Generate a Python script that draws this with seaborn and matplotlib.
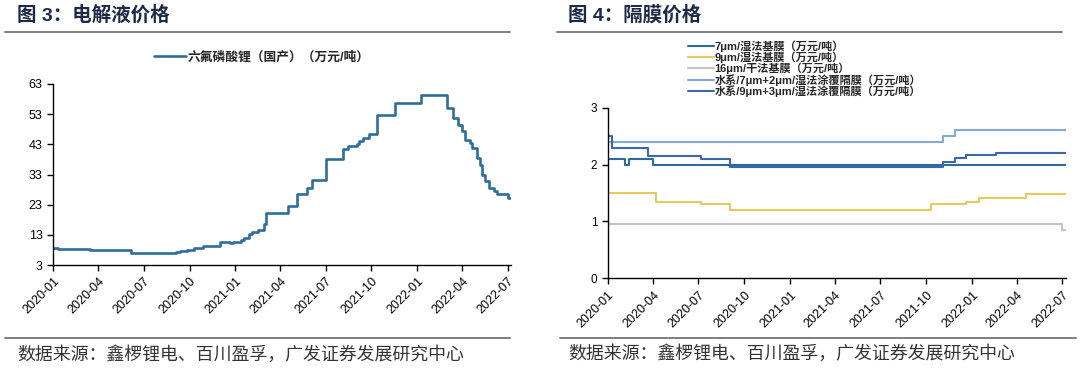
import pandas as pd
import matplotlib
matplotlib.use('Agg')
import matplotlib.pyplot as plt
import matplotlib.dates as mdates
from matplotlib.lines import Line2D
import seaborn as sns

sns.set_style('ticks')
plt.rcParams['font.family'] = ['Liberation Sans', 'Noto Sans CJK SC']
plt.rcParams['axes.unicode_minus'] = False

# ---- 图3: 六氟磷酸锂（国产）价格, 万元/吨 (step changes) ----
lipf6_dates = ['2020-01-01', '2020-01-11', '2020-03-15', '2020-06-05', '2020-09-03',
               '2020-09-12', '2020-09-25', '2020-10-10', '2020-10-28', '2020-12-01',
               '2020-12-21', '2020-12-28', '2021-01-12', '2021-01-19', '2021-01-28',
               '2021-02-04', '2021-02-15', '2021-02-27', '2021-03-03', '2021-04-17',
               '2021-05-05', '2021-05-24', '2021-06-03', '2021-07-01', '2021-08-05',
               '2021-08-14', '2021-09-01', '2021-09-06', '2021-09-15', '2021-09-27',
               '2021-10-13', '2021-11-18', '2022-01-08', '2022-03-01', '2022-03-14',
               '2022-03-24', '2022-04-01', '2022-04-07', '2022-04-16', '2022-04-20',
               '2022-05-01', '2022-05-07', '2022-05-11', '2022-05-17', '2022-05-25',
               '2022-06-04', '2022-06-10', '2022-07-01']
lipf6_values = [8.8, 8.4, 8.0, 7.1, 7.4,
                7.6, 7.9, 8.5, 9.3, 10.7,
                10.2, 10.7, 11.3, 12.1, 13.2,
                14.1, 14.6, 16.5, 20.2, 22.4,
                26.5, 28.5, 31.2, 38.1, 41.5,
                42.5, 43.2, 44.0, 45.0, 46.3,
                52.8, 56.6, 59.2, 55.1, 51.7,
                49.5, 47.3, 44.5, 43.4, 41.8,
                38.4, 36.2, 33.0, 30.7, 28.5,
                27.4, 26.5, 25.2]

# ---- 图4: 隔膜价格, 万元/吨 ----
wet7_dates = ['2020-01-01', '2020-02-05', '2020-02-12', '2020-04-01']
wet7_values = [2.1, 2.0, 2.1, 2.0]

wet9_dates = ['2020-01-01', '2020-04-06', '2020-07-06', '2020-09-03', '2021-10-10',
              '2021-12-20', '2022-01-15', '2022-04-20']
wet9_values = [1.5, 1.35, 1.3, 1.2, 1.3, 1.35, 1.42, 1.48]

dry16_dates = ['2020-01-01', '2022-07-01']
dry16_values = [0.95, 0.85]

coat72_dates = ['2020-01-01', '2021-11-03', '2021-11-27']
coat72_values = [2.4, 2.5, 2.6]

coat93_dates = ['2020-01-01', '2020-01-10', '2020-03-22', '2020-07-06', '2020-09-03',
                '2021-11-03', '2021-11-27', '2021-12-20', '2022-02-18']
coat93_values = [2.5, 2.3, 2.15, 2.1, 1.95, 2.05, 2.11, 2.17, 2.2]

sep_names = ['7μm/湿法基膜（万元/吨）', '9μm/湿法基膜（万元/吨）', '16μm/干法基膜（万元/吨）',
             '水系/7μm+2μm/湿法涂覆隔膜（万元/吨）', '水系/9μm+3μm/湿法涂覆隔膜（万元/吨）']
sep_colors = ['#2d6b9c', '#e8c85f', '#c4c4c4', '#86a9d2', '#3c66ad']

lipf6_name = '六氟磷酸锂（国产）（万元/吨）'
start_date = pd.Timestamp('2020-01-01')
end_date = pd.Timestamp('2022-07-08')


def step_frame(dates, values, name):
    d = list(pd.to_datetime(dates)) + [end_date]
    v = list(values) + [values[-1]]
    return pd.DataFrame({'date': d, 'price': v, 'series': name})


df_lipf6 = step_frame(lipf6_dates, lipf6_values, lipf6_name)
df_sep = pd.concat([
    step_frame(wet7_dates, wet7_values, sep_names[0]),
    step_frame(wet9_dates, wet9_values, sep_names[1]),
    step_frame(dry16_dates, dry16_values, sep_names[2]),
    step_frame(coat72_dates, coat72_values, sep_names[3]),
    step_frame(coat93_dates, coat93_values, sep_names[4]),
])

W, H = 1080, 368
fig = plt.figure(figsize=(W / 100, H / 100), dpi=100)

ax1 = fig.add_axes([53 / W, 1 - 265 / H, 458 / W, 181 / H])
ax2 = fig.add_axes([607.7 / W, 1 - 278.3 / H, 458 / W, 170.6 / H])

sns.lineplot(data=df_lipf6, x='date', y='price', ax=ax1, color='#2f6d9d',
             lw=1.9, drawstyle='steps-post', label=lipf6_name)
sns.lineplot(data=df_sep, x='date', y='price', hue='series', hue_order=sep_names,
             palette=dict(zip(sep_names, sep_colors)), ax=ax2, lw=1.5,
             drawstyle='steps-post')

for ax in (ax1, ax2):
    ax.set_xlim(start_date, end_date)
    ax.set_xlabel('')
    ax.set_ylabel('')
    ax.xaxis.set_major_locator(mdates.MonthLocator(bymonth=[1, 4, 7, 10]))
    ax.xaxis.set_major_formatter(mdates.DateFormatter('%Y-%m'))
    ax.tick_params(direction='out', length=4, width=1, colors='black', labelsize=9)
    for lab in ax.get_xticklabels():
        lab.set_rotation(45)
        lab.set_ha('right')
        lab.set_rotation_mode('anchor')
    for s in ('left', 'bottom'):
        ax.spines[s].set_color('black')
        ax.spines[s].set_linewidth(1)
    ax.spines['top'].set_visible(False)
    ax.spines['right'].set_visible(False)

ax1.set_ylim(3, 63)
ax1.set_yticks(range(3, 64, 10))
ax2.set_ylim(0, 3)
ax2.set_yticks([0, 1, 2, 3])
ax2.tick_params(axis='y', labelsize=8.5)

leg_font = {'family': ['Liberation Sans', 'Noto Sans CJK SC'], 'weight': 'bold', 'size': 9.2}
ax1.legend(loc='upper center', bbox_to_anchor=(262 / W, 1 - 51 / H),
           bbox_transform=fig.transFigure, frameon=False, prop=leg_font,
           borderpad=0, borderaxespad=0, handlelength=2.5, handletextpad=0.1)

h, l = ax2.get_legend_handles_labels()
leg_font2 = dict(leg_font, size=8)
ax2.legend(h, l, loc='upper left', bbox_to_anchor=(688 / W, 1 - 40 / H),
           bbox_transform=fig.transFigure, frameon=False, prop=leg_font2,
           borderpad=0, borderaxespad=0, handlelength=2.3, handletextpad=0.1,
           labelspacing=-0.02)

# titles, rules and source lines
title_font = ['Liberation Sans', 'Noto Sans CJK SC']
fig.text(17 / W, 1 - 15 / H, '图 3：电解液价格', family=title_font, weight='bold',
         size=14, color='#1c2a48', va='center')
fig.text(568 / W, 1 - 15 / H, '图 4：隔膜价格', family=title_font, weight='bold',
         size=14, color='#1c2a48', va='center')

for x0, x1 in ((5, 510), (557, 1062)):
    fig.add_artist(Line2D([x0 / W, x1 / W], [1 - 32 / H] * 2, color='#7f7f7f', lw=1.4))
for x0, x1 in ((5, 510), (560, 1076)):
    fig.add_artist(Line2D([x0 / W, x1 / W], [1 - 337.5 / H] * 2, color='#7f7f7f', lw=1.4))

src = '数据来源：鑫椤锂电、百川盈孚，广发证券发展研究中心'
fig.text(17 / W, 1 - 355 / H, src, family=title_font, size=12.9, color='#333333', va='center')
fig.text(568 / W, 1 - 354 / H, src, family=title_font, size=12.9, color='#333333', va='center')

fig.savefig('out.png', dpi=100)
